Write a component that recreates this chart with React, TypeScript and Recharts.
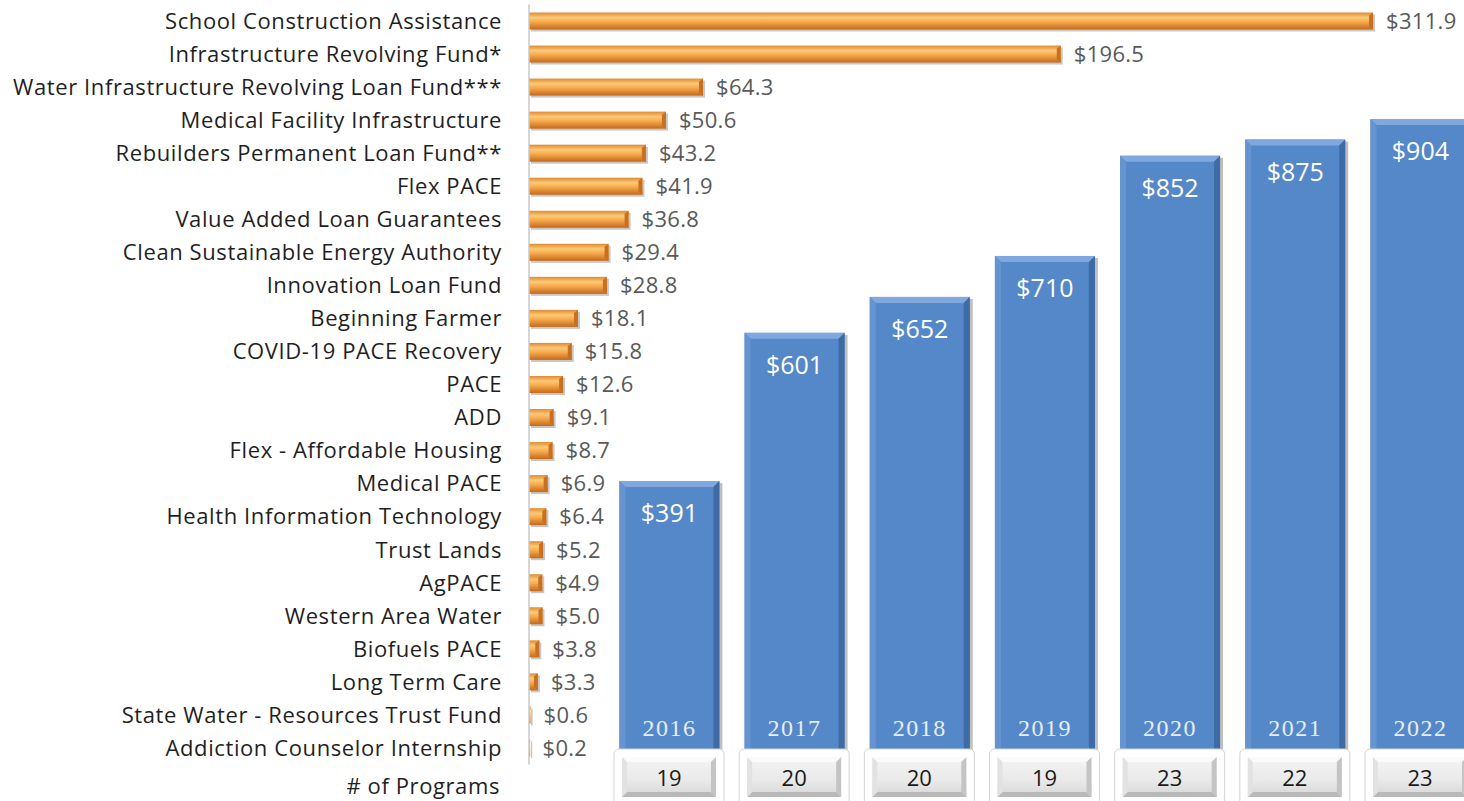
import React from 'react';
import { BarChart, Bar, XAxis, YAxis, LabelList } from 'recharts';

const programNames = [
  'School Construction Assistance',
  'Infrastructure Revolving Fund*',
  'Water Infrastructure Revolving Loan Fund***',
  'Medical Facility Infrastructure',
  'Rebuilders Permanent Loan Fund**',
  'Flex PACE',
  'Value Added Loan Guarantees',
  'Clean Sustainable Energy Authority',
  'Innovation Loan Fund',
  'Beginning Farmer',
  'COVID-19 PACE Recovery',
  'PACE',
  'ADD',
  'Flex - Affordable Housing',
  'Medical PACE',
  'Health Information Technology',
  'Trust Lands',
  'AgPACE',
  'Western Area Water',
  'Biofuels PACE',
  'Long Term Care',
  'State Water - Resources Trust Fund',
  'Addiction Counselor Internship',
];
const programValues = [311.9, 196.5, 64.3, 50.6, 43.2, 41.9, 36.8, 29.4, 28.8, 18.1, 15.8, 12.6, 9.1, 8.7, 6.9, 6.4, 5.2, 4.9, 5.0, 3.8, 3.3, 0.6, 0.2];

const years = ['2016', '2017', '2018', '2019', '2020', '2021', '2022'];
const yearTotals = [391, 601, 652, 710, 852, 875, 904];
const programCounts = [19, 20, 20, 19, 23, 22, 23];

const programData = programNames.map((name, i) => ({ name, value: programValues[i] }));
const yearData = years.map((year, i) => ({ year, total: yearTotals[i], count: programCounts[i] }));

const FONT = '"Open Sans", Lato, sans-serif';

const OrangeBar = (props: any) => {
  const { x, y, width, height } = props;
  if (width == null || height == null) return null;
  const w = Math.max(width, 1.2);
  return (
    <g>
      <rect x={x + 2} y={y + 2} width={w} height={height} fill="rgba(0,0,0,0.22)" />
      <rect x={x} y={y} width={w} height={height} fill="url(#orangeGrad)" />
      {w > 6 && (
        <polygon
          points={`${x + w - 4},${y + 3} ${x + w},${y} ${x + w},${y + height} ${x + w - 4},${y + height - 3}`}
          fill="#c8701f"
        />
      )}
    </g>
  );
};

const BlueBar = (props: any) => {
  const { x, y, width, height } = props;
  if (width == null || height == null) return null;
  const h = height - 8;
  const b = 6;
  return (
    <g>
      <rect x={x + 3} y={y + 2} width={width} height={h} fill="rgba(0,0,0,0.25)" />
      <rect x={x} y={y} width={width} height={h} fill="#5588c8" />
      <polygon points={`${x},${y} ${x + width},${y} ${x + width - b},${y + b} ${x + b},${y + b}`} fill="#7ea8de" />
      <polygon points={`${x},${y} ${x + b},${y + b} ${x + b},${y + h} ${x},${y + h}`} fill="#6594d0" />
      <polygon points={`${x + width},${y} ${x + width},${y + h} ${x + width - b},${y + h} ${x + width - b},${y + b}`} fill="#3e6ba5" />
    </g>
  );
};

const YearLabel = (props: any) => {
  const { x, y, width, height, value } = props;
  return (
    <text
      x={x + width / 2}
      y={y + height - 21}
      textAnchor="middle"
      fill="#e6edf7"
      fontSize={24}
      fontFamily='"Liberation Serif", "DejaVu Serif", serif'
      letterSpacing={1.5}
    >
      {value}
    </text>
  );
};

const ValueLabel = (props: any) => {
  const { x, y, width, value } = props;
  return (
    <text
      x={x + width / 2}
      y={y + 41}
      textAnchor="middle"
      fill="#ffffff"
      fontSize={25}
      fontFamily={FONT}
    >
      {'$' + value}
    </text>
  );
};

const CountTick = (props: any) => {
  const { x, y, index } = props;
  const count = programCounts[index];
  return (
    <g>
      <rect x={x - 55} y={y - 8} width={110} height={60} rx={5} fill="#ffffff" stroke="#d4d4d4" />
      <rect x={x - 47} y={y} width={94} height={40} fill="url(#btnGrad)" />
      <polygon points={`${x - 47},${y} ${x + 47},${y} ${x + 42},${y + 5} ${x - 42},${y + 5}`} fill="#fbfbfb" />
      <polygon points={`${x - 47},${y + 40} ${x + 47},${y + 40} ${x + 42},${y + 35} ${x - 42},${y + 35}`} fill="#b9b9b9" />
      <polygon points={`${x - 47},${y} ${x - 42},${y + 5} ${x - 42},${y + 35} ${x - 47},${y + 40}`} fill="#e2e2e2" />
      <polygon points={`${x + 47},${y} ${x + 42},${y + 5} ${x + 42},${y + 35} ${x + 47},${y + 40}`} fill="#c4c4c4" />
      <text x={x} y={y + 29} textAnchor="middle" fill="#1a1a1a" fontSize={22} fontFamily={FONT}>
        {count}
      </text>
    </g>
  );
};

export default function App() {
  return (
    <div style={{ position: 'absolute', left: 0, top: 0, width: 1464, height: 801, overflow: 'hidden', background: '#ffffff' }}>
      <div style={{ position: 'absolute', left: 0, top: 0 }}>
        <BarChart
          width={1490}
          height={801}
          data={yearData}
          margin={{ top: 51.3, right: 7.4, bottom: 0, left: 606.4 }}
          barSize={100}
        >
          <defs>
            <linearGradient id="btnGrad" x1="0" y1="0" x2="0" y2="1">
              <stop offset="0" stopColor="#f4f4f4" />
              <stop offset="0.6" stopColor="#e9e9e9" />
              <stop offset="1" stopColor="#d6d6d6" />
            </linearGradient>
          </defs>
          <XAxis
            dataKey="year"
            axisLine={false}
            tickLine={false}
            tickSize={0}
            tickMargin={0}
            height={44}
            tick={<CountTick />}
            interval={0}
          />
          <YAxis hide domain={[0, 1000]} />
          <Bar dataKey="total" isAnimationActive={false} shape={<BlueBar />}>
            <LabelList dataKey="total" content={<ValueLabel />} />
            <LabelList dataKey="year" content={<YearLabel />} />
          </Bar>
        </BarChart>
      </div>
      <div style={{ position: 'absolute', left: 0, top: 0 }}>
        <BarChart
          layout="vertical"
          width={1464}
          height={801}
          data={programData}
          margin={{ top: 4.5, right: 69, bottom: 36.5, left: 0 }}
          barSize={17}
        >
          <defs>
            <linearGradient id="orangeGrad" x1="0" y1="0" x2="0" y2="1">
              <stop offset="0" stopColor="#e08a2e" />
              <stop offset="0.3" stopColor="#fcc978" />
              <stop offset="0.55" stopColor="#f6aa4c" />
              <stop offset="1" stopColor="#c4691b" />
            </linearGradient>
          </defs>
          <XAxis type="number" hide domain={[0, 320]} />
          <YAxis
            type="category"
            dataKey="name"
            width={529}
            tickLine={false}
            tickSize={0}
            tickMargin={27}
            axisLine={{ stroke: '#c8c8c8', strokeWidth: 1.5 }}
            interval={0}
            tick={{ fontSize: 22, fill: '#1f1f1f', fontFamily: FONT, letterSpacing: 0.6 }}
          />
          <Bar dataKey="value" isAnimationActive={false} shape={<OrangeBar />}>
            <LabelList
              dataKey="value"
              position="right"
              offset={13}
              fill="#595959"
              fontSize={22}
              fontFamily={FONT}
              letterSpacing={0.3}
              formatter={(v: any) => '$' + Number(v).toFixed(1)}
            />
          </Bar>
        </BarChart>
      </div>
      <div
        style={{
          position: 'absolute',
          right: 964,
          top: 770,
          fontFamily: FONT,
          fontSize: 22,
          letterSpacing: 0.6,
          color: '#1f1f1f',
          lineHeight: '30px',
          whiteSpace: 'nowrap',
        }}
      >
        # of Programs
      </div>
    </div>
  );
}
